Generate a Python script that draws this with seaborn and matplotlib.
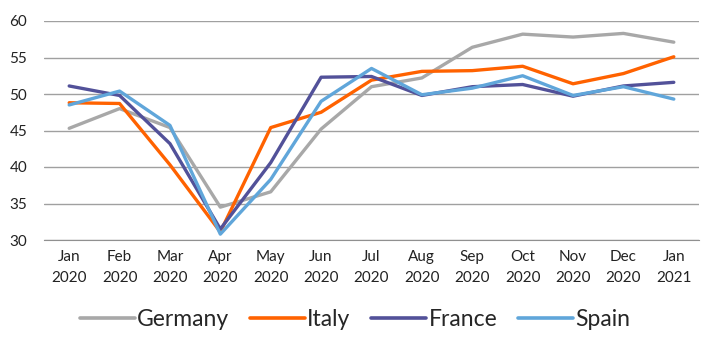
import pandas as pd
import numpy as np
import matplotlib.pyplot as plt
import seaborn as sns

months = ['Jan\n2020', 'Feb\n2020', 'Mar\n2020', 'Apr\n2020', 'May\n2020', 'Jun\n2020', 'Jul\n2020',
          'Aug\n2020', 'Sep\n2020', 'Oct\n2020', 'Nov\n2020', 'Dec\n2020', 'Jan\n2021']
germany = [45.3, 48.0, 45.4, 34.5, 36.6, 45.2, 51.0, 52.2, 56.4, 58.2, 57.8, 58.3, 57.1]
italy = [48.8, 48.7, 40.3, 31.1, 45.4, 47.5, 51.9, 53.1, 53.2, 53.8, 51.4, 52.8, 55.1]
france = [51.1, 49.8, 43.2, 31.5, 40.6, 52.3, 52.4, 49.8, 51.0, 51.3, 49.7, 51.1, 51.6]
spain = [48.5, 50.4, 45.7, 30.8, 38.3, 49.0, 53.5, 49.9, 50.8, 52.5, 49.8, 51.0, 49.3]

countries = ['Germany', 'Italy', 'France', 'Spain']
colors = ['#A8A8A8', '#FF6200', '#525199', '#60A6DA']

df = pd.DataFrame({'Germany': germany, 'Italy': italy, 'France': france, 'Spain': spain})
df['idx'] = range(len(months))
long = df.melt(id_vars='idx', var_name='country', value_name='value')

sns.set_style('white')
plt.rcParams['font.family'] = ['Lato', 'DejaVu Sans']

fig = plt.figure(figsize=(7.1, 3.55), dpi=100)
ax = fig.add_axes([44/710, 1-240/355, 655/710, 219/355])
sns.lineplot(data=long, x='idx', y='value', hue='country', hue_order=countries,
             palette=colors, linewidth=2.4, ax=ax, legend=False)

ax.set_xlim(-0.5, 12.5)
ax.set_ylim(30, 60)
ax.set_yticks(range(30, 61, 5))
ax.yaxis.grid(True, color='#A0A0A0', linewidth=1)
ax.set_axisbelow(True)
for s in ['top', 'right', 'left']:
    ax.spines[s].set_visible(False)
ax.spines['bottom'].set_color('#909090')
ax.set_xticks(range(len(months)))
ax.set_xticklabels(months, fontsize=11, color='#222222', linespacing=1.65)
ax.set_xticks(np.arange(-0.5, 13, 1), minor=True)
ax.tick_params(axis='x', which='major', length=0, pad=7)
ax.tick_params(axis='x', which='minor', length=5, color='#909090')
ax.tick_params(axis='y', length=0, labelsize=11, labelcolor='#222222', pad=12)
ax.set_xlabel('')
ax.set_ylabel('')

handles = [plt.Line2D([], [], color=c, linewidth=2.6) for c in colors]
fig.legend(handles, countries, loc='center', bbox_to_anchor=(0.5, 1-320/355), ncol=4,
           frameon=False, fontsize=16.5, handlelength=2.4, handletextpad=0.1, columnspacing=0.9)

fig.savefig('out.png', dpi=100)
